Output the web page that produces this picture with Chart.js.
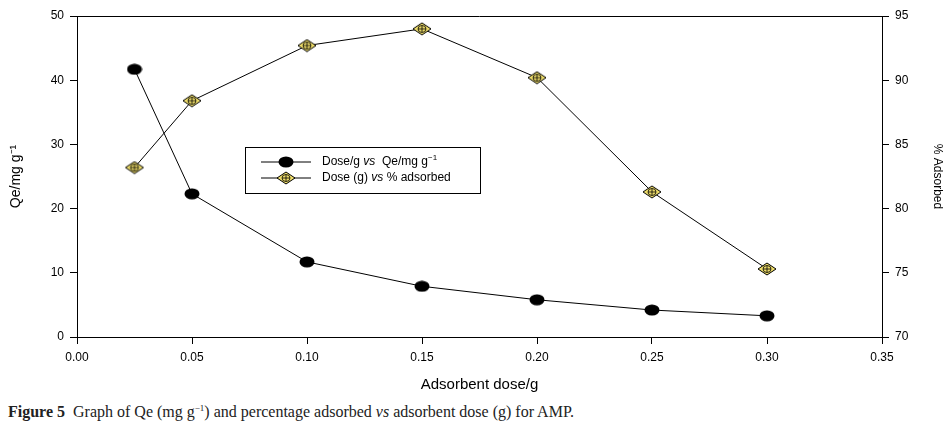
<!DOCTYPE html>
<html>
<head>
<meta charset="utf-8">
<script src="https://cdn.jsdelivr.net/npm/chart.js@4"></script>
<style>
  body { margin: 0; background: #fff; }
  #wrap { position: relative; width: 949px; height: 398px; }
  #caption { font-family: "Liberation Serif", "DejaVu Serif", serif; font-size: 16px; color: #222; margin: 5px 0 0 8px; }
  #caption sup { font-size: 9px; }
</style>
</head>
<body>
<div id="wrap"><canvas id="myChart"></canvas></div>
<div id="caption"><b>Figure 5</b>&nbsp; Graph of Qe (mg g<sup>&minus;1</sup>) and percentage adsorbed <i>vs</i> adsorbent dose (g) for AMP.</div>
<script>
const doses = [0.025, 0.05, 0.10, 0.15, 0.20, 0.25, 0.30];
const qeValues = [41.7, 22.3, 11.7, 7.9, 5.8, 4.2, 3.3];
const adsorbedValues = [83.2, 88.4, 92.7, 94.0, 90.2, 81.3, 75.3];

// marker images
function ellipseMarker() {
    const c = document.createElement('canvas');
    c.width = 16; c.height = 12;
    const g = c.getContext('2d');
    g.fillStyle = '#000';
    g.beginPath();
    g.ellipse(8, 6, 7.5, 5.5, 0, 0, Math.PI * 2);
    g.fill();
    return c;
}
function diamondMarker() {
    const c = document.createElement('canvas');
    c.width = 20; c.height = 14;
    const g = c.getContext('2d');
    g.fillStyle = '#eedd6a';
    g.strokeStyle = '#000';
    g.lineWidth = 1;
    g.beginPath();
    g.moveTo(1, 7); g.lineTo(10, 1); g.lineTo(19, 7); g.lineTo(10, 13); g.closePath();
    g.fill(); g.stroke();
    g.lineWidth = 0.8;
    g.beginPath();
    g.ellipse(10, 7, 4, 3.5, 0, 0, Math.PI * 2);
    g.stroke();
    g.beginPath();
    g.moveTo(6, 7); g.lineTo(14, 7);
    g.moveTo(10, 3.5); g.lineTo(10, 10.5);
    g.stroke();
    return c;
}
const ell = ellipseMarker();
const dia = diamondMarker();

const legendBox = {
    id: 'legendBox',
    afterDraw(chart) {
        const g = chart.ctx;
        g.save();
        g.strokeStyle = '#000';
        g.lineWidth = 1;
        g.strokeRect(245.5, 147.5, 235, 46);
        const rows = [[162, ell], [178, dia]];
        rows.forEach(([y, img]) => {
            g.beginPath();
            g.moveTo(261, y); g.lineTo(311, y);
            g.stroke();
            g.drawImage(img, 286 - img.width / 2, y - img.height / 2);
        });
        g.fillStyle = '#000';
        g.textBaseline = 'middle';
        let x = 322;
        const part = (txt, font, dy) => {
            g.font = font;
            g.fillText(txt, x, dy);
            x += g.measureText(txt).width;
        };
        part('Dose/g ', '12px "Liberation Sans", Arial', 162);
        part('vs', 'italic 12px "Liberation Sans", Arial', 162);
        part('  Qe/mg g', '12px "Liberation Sans", Arial', 162);
        part('\u22121', '8px "Liberation Sans", Arial', 158);
        x = 322;
        part('Dose (g) ', '12px "Liberation Sans", Arial', 178);
        part('vs', 'italic 12px "Liberation Sans", Arial', 178);
        part(' % adsorbed', '12px "Liberation Sans", Arial', 178);
        // top frame line
        const a = chart.chartArea;
        g.beginPath();
        g.moveTo(a.left, a.top + 0.5); g.lineTo(a.right, a.top + 0.5);
        g.stroke();
        g.restore();
    }
};

Chart.defaults.font.family = '"Liberation Sans", Arial, sans-serif';
Chart.defaults.color = '#000';

const ctx = document.getElementById('myChart').getContext('2d');

const graph = {
    type: 'line',
    data: {
        datasets: [{
            label: 'Dose/g vs Qe/mg g\u207B\u00B9',
            data: doses.map((d, i) => ({x: d, y: qeValues[i]})),
            yAxisID: 'y',
            borderColor: '#000',
            borderWidth: 1,
            pointStyle: ell,
            tension: 0
        }, {
            label: 'Dose (g) vs % adsorbed',
            data: doses.map((d, i) => ({x: d, y: adsorbedValues[i]})),
            yAxisID: 'y2',
            borderColor: '#000',
            borderWidth: 1,
            pointStyle: dia,
            tension: 0
        }]
    },
    options: {
        responsive: true,
        maintainAspectRatio: false,
        animation: false,
        layout: { padding: { top: 16, left: 0, right: 0, bottom: 0 } },
        plugins: { legend: { display: false }, tooltip: { enabled: false } },
        scales: {
            x: {
                type: 'linear',
                min: 0, max: 0.35,
                ticks: { stepSize: 0.05, font: { size: 12 }, padding: 6, callback: v => v.toFixed(2) },
                grid: { drawOnChartArea: false, tickLength: 7, color: '#000' },
                border: { color: '#000', width: 1 },
                title: { display: true, text: 'Adsorbent dose/g', font: { size: 15 }, padding: { top: 4, bottom: 4 } },
                afterFit(s) { s.height = 61; }
            },
            y: {
                position: 'left',
                min: 0, max: 50,
                ticks: { stepSize: 10, font: { size: 12 }, padding: 6 },
                grid: { drawOnChartArea: false, tickLength: 7, color: '#000' },
                border: { color: '#000', width: 1 },
                title: { display: true, text: 'Qe/mg g\u207B\u00B9', font: { size: 14 }, padding: { top: 8, bottom: 0 } },
                afterFit(s) { s.width = 77; }
            },
            y2: {
                position: 'right',
                min: 70, max: 95,
                ticks: { stepSize: 5, font: { size: 12 }, padding: 6 },
                grid: { drawOnChartArea: false, tickLength: 7, color: '#000' },
                border: { color: '#000', width: 1 },
                title: { display: true, text: '% Adsorbed', font: { size: 12 }, padding: { top: 4, bottom: 0 } },
                afterFit(s) { s.width = 67; }
            }
        }
    },
    plugins: [legendBox]
};

const myChart = new Chart(ctx, graph);
</script>
</body>
</html>
